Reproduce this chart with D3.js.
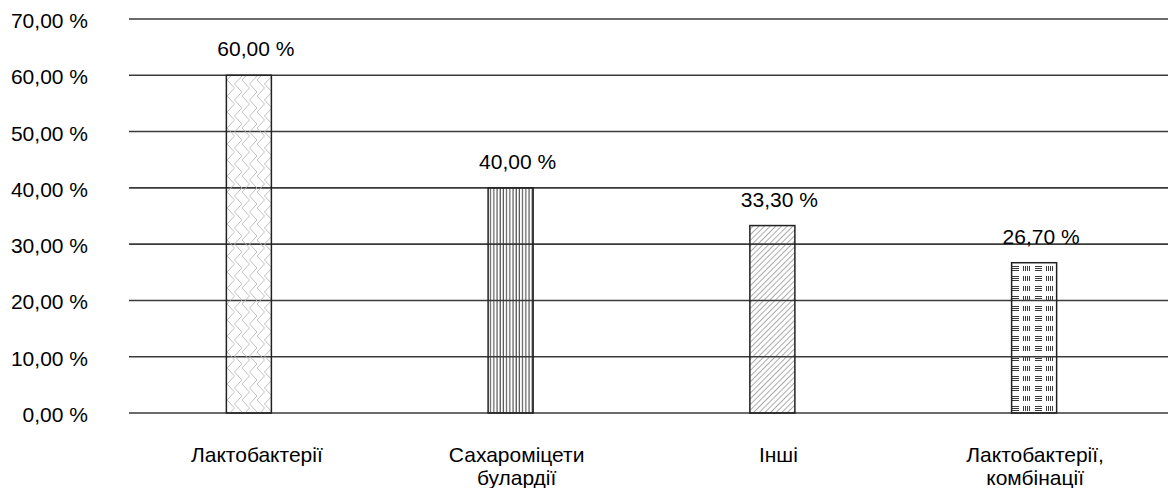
<!DOCTYPE html>
<html>
<head>
<meta charset="utf-8">
<script src="https://cdn.jsdelivr.net/npm/d3@7"></script>
<style>
  html, body { margin: 0; padding: 0; background: #fff; }
  svg { display: block; font-family: "Liberation Sans", Arial, sans-serif; }
</style>
</head>
<body>
<svg id="chart" width="1168" height="488"></svg>
<script>
// Probiotic groups and their shares (%)
const categories = [["Лактобактерії"], ["Сахароміцети", "булардії"], ["Інші"], ["Лактобактерії,", "комбінації"]];
const values = [60.0, 40.0, 33.3, 26.7];
const yTicks = [0, 10, 20, 30, 40, 50, 60, 70];
const patterns = ["zigzag", "vlines", "diag", "weave"];

const W = 1168, H = 488;
const FS = 21;
const svg = d3.select("#chart");
const fmt = v => d3.format(".2f")(v).replace(".", ",") + " %";

const y = d3.scaleLinear().domain([0, 70]).range([413, 19]);
const xBar = d3.scaleBand().domain(d3.range(categories.length)).range([118, 1165]).paddingInner(0.828).paddingOuter(0.414);
const barMid = i => xBar(i) + xBar.bandwidth() / 2;

// fill patterns
const defs = svg.append("defs");
{
  // herringbone
  const p = defs.append("pattern").attr("id", "zigzag").attr("patternUnits", "userSpaceOnUse")
    .attr("width", 15).attr("height", 16).attr("x", 227).attr("y", 0);
  p.append("path").attr("d", "M0,0 L7.5,8 L0,16 M7.5,4 L15,12 M7.5,4 L15,-4 M7.5,20 L15,12")
    .attr("fill", "none").attr("stroke", "#b8b8b8").attr("stroke-width", 0.9);
}
{
  const p = defs.append("pattern").attr("id", "vlines").attr("patternUnits", "userSpaceOnUse")
    .attr("width", 3.2).attr("height", 10);
  p.append("line").attr("x1", 1).attr("x2", 1).attr("y1", 0).attr("y2", 10)
    .attr("stroke", "#333").attr("stroke-width", 1);
}
{
  const p = defs.append("pattern").attr("id", "diag").attr("patternUnits", "userSpaceOnUse")
    .attr("width", 4).attr("height", 4).attr("patternTransform", "rotate(45)");
  p.append("line").attr("x1", 0).attr("x2", 0).attr("y1", 0).attr("y2", 4)
    .attr("stroke", "#444").attr("stroke-width", 0.9);
}
{
  // alternating blocks of horizontal and vertical strokes
  const p = defs.append("pattern").attr("id", "weave").attr("patternUnits", "userSpaceOnUse")
    .attr("width", 23).attr("height", 10).attr("x", 1011).attr("y", 265);
  const g = p.append("g").attr("stroke", "#3a3a3a").attr("stroke-width", 1);
  [1.5, 3.5, 5.5].forEach(v => g.append("line").attr("x1", 1).attr("x2", 8).attr("y1", v).attr("y2", v));
  [12.5, 14.5, 16.5, 18.5].forEach(v => g.append("line").attr("x1", v).attr("x2", v).attr("y1", 1).attr("y2", 6));
}

// horizontal gridlines
svg.append("g").selectAll("line").data(yTicks).join("line")
  .attr("x1", 129).attr("x2", W)
  .attr("y1", d => y(d)).attr("y2", d => y(d))
  .attr("stroke", "#3a3a3a").attr("stroke-width", 1.6);

// y tick labels
svg.append("g").selectAll("text").data(yTicks).join("text")
  .attr("x", 88).attr("y", d => y(d) + 9)
  .attr("text-anchor", "end").attr("font-size", FS).attr("fill", "#000")
  .text(d => fmt(d));

// bars
svg.append("g").selectAll("rect").data(values).join("rect")
  .attr("x", (d, i) => xBar(i)).attr("width", xBar.bandwidth())
  .attr("y", d => y(d)).attr("height", d => y(0) - y(d))
  .attr("fill", (d, i) => `url(#${patterns[i]})`)
  .attr("stroke", "#222").attr("stroke-width", 1.5);

// value labels
svg.append("g").selectAll("text").data(values).join("text")
  .attr("x", (d, i) => barMid(i) + 7)
  .attr("y", d => y(d) - 19)
  .attr("text-anchor", "middle").attr("font-size", FS).attr("fill", "#000")
  .text(d => fmt(d));

// category labels
const catOffset = [8, 6, 6, 1];
const cat = svg.append("g").selectAll("text").data(categories).join("text")
  .attr("text-anchor", "middle").attr("font-size", FS).attr("fill", "#000")
  .attr("x", (d, i) => barMid(i) + catOffset[i])
  .attr("y", 462);
cat.selectAll("tspan").data(d => d).join("tspan")
  .attr("x", function() { return d3.select(this.parentNode).attr("x"); })
  .attr("dy", (d, i) => i === 0 ? 0 : 23)
  .text(d => d);
</script>
</body>
</html>
